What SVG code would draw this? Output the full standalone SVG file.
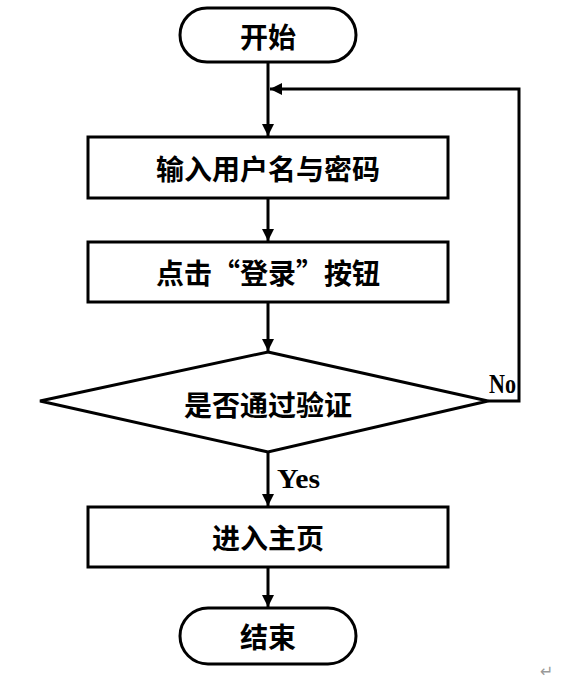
<svg xmlns="http://www.w3.org/2000/svg" width="578" height="681" viewBox="0 0 578 681">
<style>
.s{fill:#fff;stroke:#000;stroke-width:3}
.t{font-family:"Noto Sans CJK SC","Noto Sans CJK JP",sans-serif;font-weight:bold;font-size:28px;text-anchor:middle;dominant-baseline:central;fill:#000}
.l{font-family:"Liberation Serif",serif;font-weight:bold;font-size:27px;fill:#000}
.c{fill:none;stroke:#000;stroke-width:3}
</style>
<defs>
<marker id="a" viewBox="0 0 10 10" refX="10" refY="5" markerWidth="4" markerHeight="4" orient="auto" markerUnits="strokeWidth">
<path d="M0,0 L10,5 L0,10 z" fill="#000"/>
</marker>
</defs>
<rect width="578" height="681" fill="#fff"/>
<g id="connectors">
<line class="c" x1="268" y1="62" x2="268" y2="136" marker-end="url(#a)"/>
<line class="c" x1="268" y1="198" x2="268" y2="241" marker-end="url(#a)"/>
<line class="c" x1="268" y1="302" x2="268" y2="351" marker-end="url(#a)"/>
<line class="c" x1="268" y1="452" x2="268" y2="506" marker-end="url(#a)"/>
<line class="c" x1="268" y1="567" x2="268" y2="607" marker-end="url(#a)"/>
<polyline class="c" points="488,401 519,401 519,89 270,89" marker-end="url(#a)"/>
<text class="l" x="277" y="488" textLength="43" lengthAdjust="spacingAndGlyphs">Yes</text>
<text class="l" x="489" y="393" textLength="27" lengthAdjust="spacingAndGlyphs">No</text>
</g>
<g id="start">
<rect class="s" x="180" y="8" width="176" height="54" rx="27"/>
<text class="t" x="268" y="36">开始</text>
</g>
<g id="input">
<rect class="s" x="88" y="137" width="360" height="61"/>
<text class="t" x="268" y="168">输入用户名与密码</text>
</g>
<g id="click">
<rect class="s" x="88" y="242" width="360" height="60"/>
<text class="t" x="268" y="272">点击“登录”按钮</text>
</g>
<g id="verify">
<polygon class="s" points="268,352 488,401 268,452 40,401"/>
<text class="t" x="268" y="404">是否通过验证</text>
</g>
<g id="home">
<rect class="s" x="88" y="507" width="360" height="60"/>
<text class="t" x="268" y="537">进入主页</text>
</g>
<g id="end">
<rect class="s" x="180" y="608" width="176" height="56" rx="28"/>
<text class="t" x="268" y="636">结束</text>
</g>
<text x="540" y="677" font-family="DejaVu Sans,sans-serif" font-size="16" fill="#999">↵</text>
</svg>
